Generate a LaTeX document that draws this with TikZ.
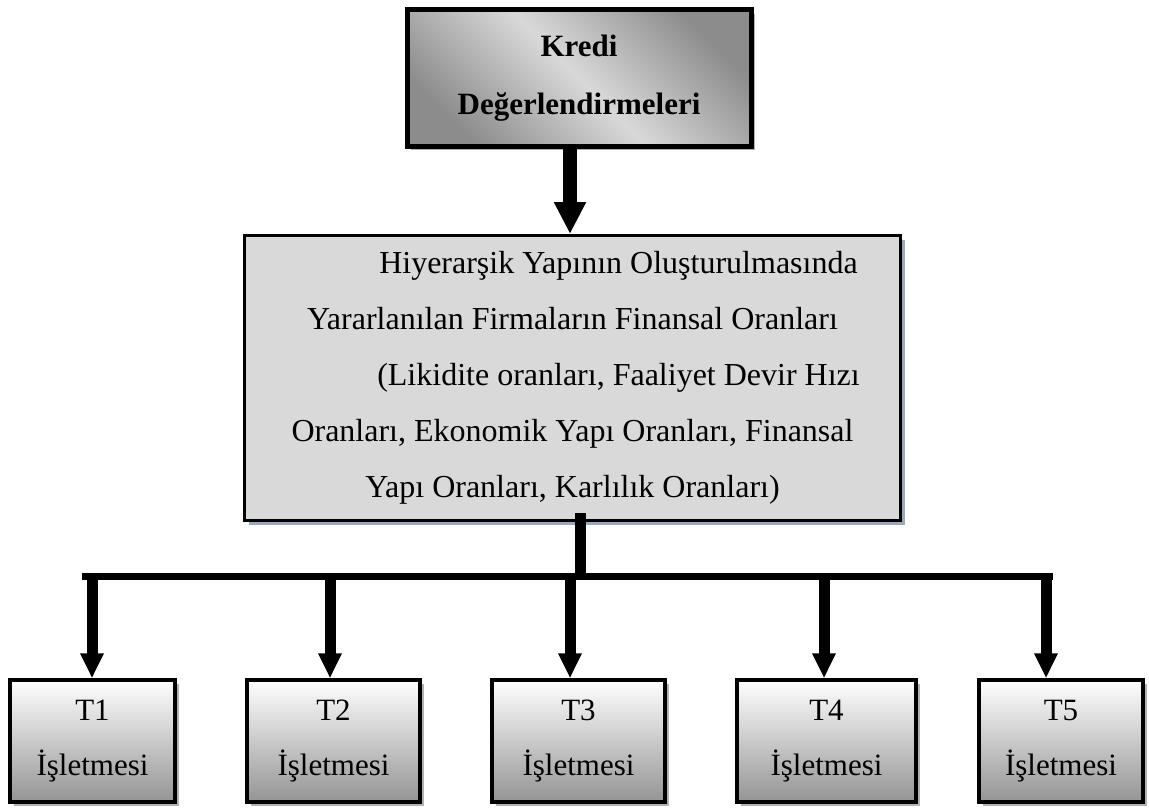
\documentclass[tikz,border=0pt]{standalone}
\usepackage{fontspec}
\setmainfont{Liberation Serif}
\usetikzlibrary{arrows.meta,shadows}
\definecolor{golge}{HTML}{9DA8BA}

\begin{document}
\begin{tikzpicture}[x=0.5pt, y=-0.5pt,
  kutu/.style={draw, line width=1.75pt, inner sep=0pt, align=center,
    top color=white, bottom color=black!42, minimum height=61pt,
    drop shadow={shadow xshift=2pt, shadow yshift=-2pt, fill=black!30, opacity=1},
    font=\fontsize{15.5pt}{27.5pt}\selectfont},
  okbuyuk/.style={line width=7pt, -{Triangle[length=16pt, width=15pt]}},
  okkucuk/.style={line width=5.5pt, -{Triangle[length=12.5pt, width=11pt]}},
  hat/.style={line width=3.5pt}]

  \useasboundingbox (0,0) rectangle (1149,808);

  %% kredi degerlendirmeleri
  \node[draw, line width=2.5pt, inner sep=0pt, align=center,
    minimum width=172pt, minimum height=68pt,
    top color=black!45, bottom color=black!45, middle color=black!15,
    shading angle=-45,
    drop shadow={shadow xshift=2pt, shadow yshift=-2pt, fill=black!30, opacity=1},
    font=\bfseries\fontsize{15.5pt}{29pt}\selectfont]
    (kredi) at (579,78) {Kredi\\Değerlendirmeleri};

  %% finansal oranlar
  \node[draw, line width=1.5pt, fill=black!15, inner sep=0pt, align=center,
    minimum width=328pt, minimum height=142.5pt,
    drop shadow={shadow xshift=2pt, shadow yshift=-2pt, fill=golge, opacity=1},
    font=\fontsize{16pt}{28pt}\selectfont]
    (oran) at (572.5,378)
    {\hspace*{46pt}Hiyerarşik Yapının Oluşturulmasında\\
     Yararlanılan Firmaların Finansal Oranları\\
     \hspace*{46pt}(Likidite oranları, Faaliyet Devir Hızı\\
     Oranları, Ekonomik Yapı Oranları, Finansal\\
     Yapı Oranları, Karlılık Oranları)};

  %% isletmeler
  \node[kutu, minimum width=82.5pt] (t1) at (92.5,741) {T1\\İşletmesi};
  \node[kutu, minimum width=86.5pt] (t2) at (333.5,741) {T2\\İşletmesi};
  \node[kutu, minimum width=86.5pt] (t3) at (578.5,741) {T3\\İşletmesi};
  \node[kutu, minimum width=89.5pt] (t4) at (826.5,741) {T4\\İşletmesi};
  \node[kutu, minimum width=82pt] (t5) at (1061,741) {T5\\İşletmesi};

  \coordinate (ok1) at ([xshift=-4.5pt]kredi.south);
  \draw[okbuyuk] (ok1) -- (ok1 |- oran.north);

  \coordinate (solu) at (82,576);
  \coordinate (sagu) at (1053,576);
  \coordinate (govde) at (580,576);
  \draw[hat] (solu) -- (sagu);
  \draw[line width=5.5pt] ([xshift=3.75pt, yshift=4.75pt]oran.south) -- (govde);

  \coordinate (a1) at (92,576);
  \coordinate (a2) at (330,576);
  \coordinate (a3) at (570,576);
  \coordinate (a4) at (824,576);
  \coordinate (a5) at (1046,576);
  \draw[okkucuk] (a1) -- (a1 |- t1.north);
  \draw[okkucuk] (a2) -- (a2 |- t2.north);
  \draw[okkucuk] (a3) -- (a3 |- t3.north);
  \draw[okkucuk] (a4) -- (a4 |- t4.north);
  \draw[okkucuk] (a5) -- (a5 |- t5.north);

\end{tikzpicture}
\end{document}
